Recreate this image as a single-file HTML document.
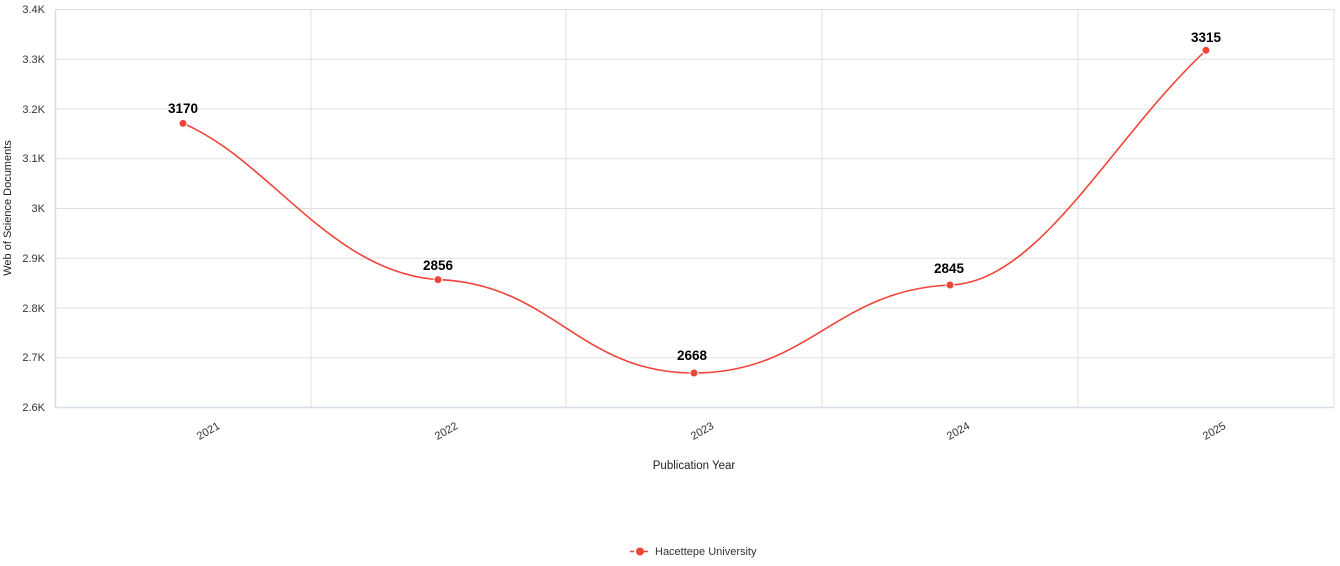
<!DOCTYPE html>
<html><head><meta charset="utf-8"><style>
html,body{margin:0;padding:0;background:#fff;}
svg{display:block;font-family:"Liberation Sans","DejaVu Sans",sans-serif;}
</style></head><body>
<svg width="1340" height="566" viewBox="0 0 1340 566" xmlns="http://www.w3.org/2000/svg">
<g stroke="#e0e0e0" stroke-width="1">
<line x1="55" y1="9.5" x2="1334" y2="9.5"/>
<line x1="55" y1="59.25" x2="1334" y2="59.25"/>
<line x1="55" y1="109" x2="1334" y2="109"/>
<line x1="55" y1="158.75" x2="1334" y2="158.75"/>
<line x1="55" y1="208.5" x2="1334" y2="208.5"/>
<line x1="55" y1="258.25" x2="1334" y2="258.25"/>
<line x1="55" y1="308" x2="1334" y2="308"/>
<line x1="55" y1="357.75" x2="1334" y2="357.75"/>
<line x1="311" y1="9" x2="311" y2="407"/>
<line x1="566" y1="9" x2="566" y2="407"/>
<line x1="822" y1="9" x2="822" y2="407"/>
<line x1="1078" y1="9" x2="1078" y2="407"/>
<line x1="1334" y1="9" x2="1334" y2="407"/>
</g>
<line x1="55.5" y1="9" x2="55.5" y2="408" stroke="#d5dde8" stroke-width="1.5"/>
<line x1="55" y1="407.5" x2="1334" y2="407.5" stroke="#d5dde8" stroke-width="1.5"/>
<g font-size="11" fill="#333" text-anchor="end">
<text x="45" y="13">3.4K</text>
<text x="45" y="63">3.3K</text>
<text x="45" y="113">3.2K</text>
<text x="45" y="162">3.1K</text>
<text x="45" y="212">3K</text>
<text x="45" y="262">2.9K</text>
<text x="45" y="312">2.8K</text>
<text x="45" y="361">2.7K</text>
<text x="45" y="411">2.6K</text>
</g>
<text transform="translate(11,208) rotate(-90)" font-size="11" fill="#222" text-anchor="middle">Web of Science Documents</text>
<g font-size="11" fill="#333" text-anchor="middle">
<text transform="translate(210,434) rotate(-30)">2021</text>
<text transform="translate(448,434) rotate(-30)">2022</text>
<text transform="translate(704,434) rotate(-30)">2023</text>
<text transform="translate(960,434) rotate(-30)">2024</text>
<text transform="translate(1216,434) rotate(-30)">2025</text>
</g>
<text x="694" y="469" font-size="11.5" fill="#222" text-anchor="middle">Publication Year</text>
<path d="M183,123.4 C270,160 330,272 438,279.6 C553,284 579,373 694,373 C809,373 835,290 950,285 C1040,282 1110,140 1206,50.3" fill="none" stroke="#f04438" stroke-width="1.6"/>
<g fill="#f04438" stroke="#fff" stroke-width="1">
<circle cx="183" cy="123.4" r="4"/>
<circle cx="438" cy="279.6" r="4"/>
<circle cx="694" cy="373" r="4"/>
<circle cx="950" cy="285" r="4"/>
<circle cx="1206" cy="50.3" r="4"/>
</g>
<g font-size="13.5" font-weight="bold" fill="#000" text-anchor="middle">
<text x="183" y="113">3170</text>
<text x="438" y="270">2856</text>
<text x="692" y="360">2668</text>
<text x="949" y="273">2845</text>
<text x="1206" y="42">3315</text>
</g>
<line x1="630" y1="551.5" x2="650" y2="551.5" stroke="#f04438" stroke-width="1.6" stroke-dasharray="4,3"/>
<circle cx="640" cy="551.5" r="4" fill="#f04438"/>
<text x="655" y="555" font-size="11" fill="#333">Hacettepe University</text>
</svg>
</body></html>
